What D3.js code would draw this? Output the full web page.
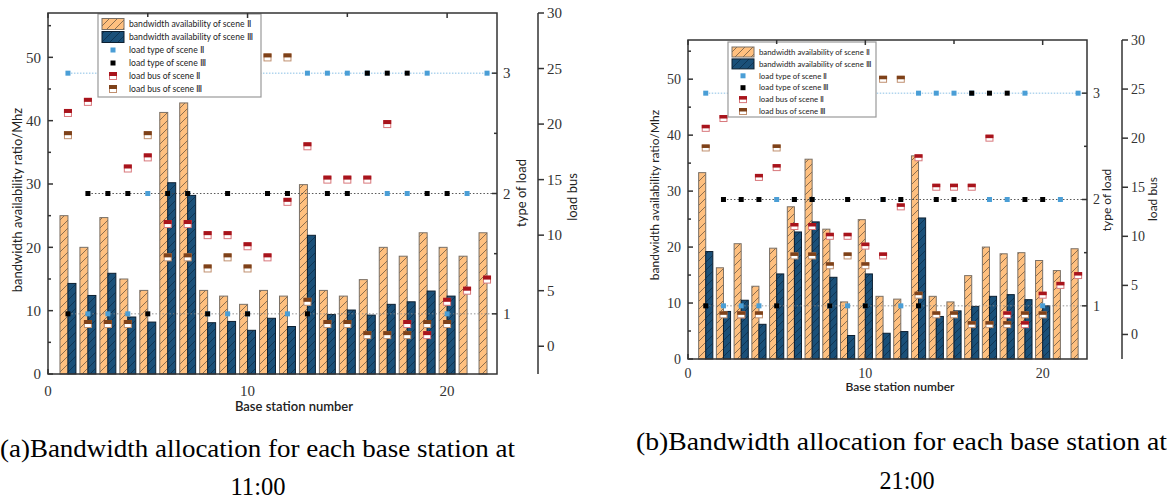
<!DOCTYPE html>
<html><head><meta charset="utf-8">
<script src="https://cdn.jsdelivr.net/npm/d3@7"></script>
<style>body{margin:0;background:#fff} svg{display:block}
.serif{font-family:"Liberation Serif","Times New Roman",Times,"DejaVu Serif Condensed","DejaVu Serif",serif;font-stretch:condensed}
.sans{font-family:Lato,"Open Sans","Liberation Sans",sans-serif}
</style>
</head><body>
<svg id="c" width="1167" height="499"></svg>
<script>
// ---------------- data ----------------
const stations = [1,2,3,4,5,6,7,8,9,10,11,12,13,14,15,16,17,18,19,20,21,22];
const bwScene2At11 = [25,20,24.7,15,13.2,41.3,42.8,13.2,12.3,11,13.2,12.3,29.9,13.2,12.3,14.9,20,18.6,22.3,20,18.6,22.3];
const bwScene3At11 = [14.3,12.4,15.9,9,8.2,30.2,28.2,8.1,8.3,6.9,8.8,7.5,21.9,9.4,10.1,9.3,11,11.4,13.1,12.3,null,null];
const bwScene2At21 = [33.3,16.3,20.6,13,19.8,27.2,35.7,23.2,10.2,24.9,11.2,10.7,36.3,11.2,10.2,14.9,20,18.8,19,17.6,15.8,19.7];
const bwScene3At21 = [19.2,8.5,10.5,6.2,15.2,22.7,24.5,14.6,4.2,15.2,4.6,4.9,25.2,7.6,8.6,9.4,11.2,11.5,10.6,9.5,null,null];
const loadTypeScene2 = [3,1,1,1,2,2,2,1,1,1,2,1,3,3,3,3,2,2,3,1,2,3];
const loadTypeScene3 = [1,2,2,2,1,2,2,1,2,1,2,2,1,2,2,3,3,3,2,2,null,null];
const loadBusScene2 = [21,22,2,16,17,11,11,10,10,9,8,13,18,15,15,15,20,2,1,4,5,6];
const loadBusScene3 = [19,2,2,2,19,8,8,7,8,7,26,26,4,2,2,1,1,1,2,2,null,null];
const leftTicks = [0,10,20,30,40,50];
const leftMinor = [5,15,25,35,45,55];
const xTicks = [0,10,20];
const xMinor = [5,15];
const typeTicks = [1,2,3];
const typeMinor = [1.5,2.5];
const busTicks = [0,5,10,15,20,25,30];
const legendLabels = ["bandwidth availability of scene \u2161","bandwidth availability of scene \u2162",
  "load type of scene \u2161","load type of scene \u2162","load bus of scene \u2161","load bus of scene \u2162"];
const captions = [["(a)Bandwidth allocation for each base station at","11:00"],
                  ["(b)Bandwidth allocation for each base station at","21:00"]];

// ---------------- styles ----------------
const C = {orange:"#FFC07F", orangeEdge:"#7a7066", blue:"#1A5079", blueEdge:"#0c1f30",
  typeBlue:"#4A9ED6", typeBlack:"#000", red:"#A8141C", redEdge:"#D8787C", brown:"#7E4119", brownEdge:"#C09070", axis:"#333"};
const svg = d3.select("#c");
const defs = svg.append("defs");
function hatch(id, bg, line){
  const p = defs.append("pattern").attr("id",id).attr("patternUnits","userSpaceOnUse")
    .attr("width",8).attr("height",8);
  p.append("rect").attr("width",8).attr("height",8).attr("fill",bg);
  p.append("path").attr("d","M-2,2 L2,-2 M0,8 L8,0 M6,10 L10,6").attr("stroke",line).attr("stroke-width",0.7);
}
hatch("hO", C.orange, "#5a4a3a");
hatch("hB", C.blue, "#0a2a44");

const panels = [
  {l:48, r:497, t:13, b:374, busX:538, bw2:bwScene2At11, bw3:bwScene3At11, tick:15, tickDy:22,
   xTitle:[294,411], yTitle:[17,200], typeTitle:[521,193], busTitle:[572,197], titleFs:13,
   leg:{x:98,y:14,w:163,h:83,row:13,fs:8.6,sw:11}, busM:[8,8], cap:[[0,515,457],[258,495,55]]},
  {l:688, r:1087, t:40, b:359, busX:1122, bw2:bwScene2At21, bw3:bwScene3At21, tick:14, tickDy:19,
   xTitle:[900,391], yTitle:[655,195], typeTitle:[1107,200], busTitle:[1153,199], titleFs:12,
   leg:{x:728,y:42,w:148,h:75,row:11.9,fs:7.8,sw:10}, busM:[8,7], cap:[[636,531,450],[907,489,55]]}
];

panels.forEach((P, pi) => {
  const g = svg.append("g");
  const x = d3.scaleLinear().domain([0,22.5]).range([P.l,P.r]);
  const y = d3.scaleLinear().domain([0,57]).range([P.b,P.t]);
  const yT = d3.scaleLinear().domain([0.5,3.5]).range([P.b,P.t]);
  const yB = d3.scaleLinear().domain([-2.5,30]).range([P.b,P.t]);
  const bw = 0.4;

  const d2 = stations.map((s,i)=>({s, v:P.bw2[i]})).filter(d=>d.v!=null);
  const d3s = stations.map((s,i)=>({s, v:P.bw3[i]})).filter(d=>d.v!=null);
  g.selectAll(".bo").data(d2).join("rect")
    .attr("x",d=>x(d.s-bw)).attr("width",d=>x(d.s)-x(d.s-bw))
    .attr("y",d=>y(d.v)).attr("height",d=>y(0)-y(d.v))
    .attr("fill","url(#hO)").attr("stroke",C.orangeEdge).attr("stroke-width",1);
  g.selectAll(".bb").data(d3s).join("rect")
    .attr("x",d=>x(d.s)).attr("width",d=>x(d.s+bw)-x(d.s))
    .attr("y",d=>y(d.v)).attr("height",d=>y(0)-y(d.v))
    .attr("fill","url(#hB)").attr("stroke",C.blueEdge).attr("stroke-width",1);

  [[3,"#7DB9E2","1.5,1.5"],[2,"#444","1.5,2"],[1,"#888","1.5,2"]].forEach(([lv,col,da])=>{
    g.append("line").attr("x1",x(lv===2?2:1)).attr("x2",P.r).attr("y1",yT(lv)).attr("y2",yT(lv))
      .attr("stroke",col).attr("stroke-width",0.9).attr("stroke-dasharray",da);
  });

  const t2 = stations.map((s,i)=>({s,v:loadTypeScene2[i]})).filter(d=>d.v!=null);
  const t3 = stations.map((s,i)=>({s,v:loadTypeScene3[i]})).filter(d=>d.v!=null);
  const ts = 5;
  g.selectAll(".t2").data(t2).join("rect").attr("x",d=>x(d.s)-ts/2).attr("y",d=>yT(d.v)-ts/2)
    .attr("width",ts).attr("height",ts).attr("fill",C.typeBlue);
  g.selectAll(".t3").data(t3).join("rect").attr("x",d=>x(d.s)-ts/2).attr("y",d=>yT(d.v)-ts/2)
    .attr("width",ts).attr("height",ts).attr("fill",C.typeBlack);

  function busMarker(sel, fill, edge){
    const [w,h] = P.busM;
    sel.append("rect").attr("x",-w/2+0.5).attr("y",-h/2+0.5).attr("width",w-1).attr("height",h-1)
      .attr("fill","#fff").attr("stroke",edge).attr("stroke-width",1);
    sel.append("rect").attr("x",-w/2).attr("y",-h/2).attr("width",w).attr("height",h/2)
      .attr("fill",fill);
  }
  const b2 = stations.map((s,i)=>({s,v:loadBusScene2[i]})).filter(d=>d.v!=null);
  const b3 = stations.map((s,i)=>({s,v:loadBusScene3[i]})).filter(d=>d.v!=null);
  g.selectAll(".b2").data(b2).join("g").attr("transform",d=>`translate(${x(d.s)},${yB(d.v)})`)
    .call(busMarker, C.red, C.redEdge);
  g.selectAll(".b3").data(b3).join("g").attr("transform",d=>`translate(${x(d.s)},${yB(d.v)})`)
    .call(busMarker, C.brown, C.brownEdge);

  const L = P.leg;
  const lg = g.append("g");
  lg.append("rect").attr("x",L.x).attr("y",L.y).attr("width",L.w).attr("height",L.h)
    .attr("fill","#fff").attr("stroke","#999").attr("stroke-width",1.2);
  legendLabels.forEach((lab,i)=>{
    const cy = L.y + 10 + i*L.row;
    const sx = L.x + 4, sw = 22, mx = sx + 11;
    if (i===0 || i===1){
      lg.append("rect").attr("x",sx).attr("y",cy-L.sw/2).attr("width",sw).attr("height",L.sw)
        .attr("fill",i===0?"url(#hO)":"url(#hB)").attr("stroke",i===0?C.orangeEdge:C.blueEdge);
    } else if (i===2 || i===3){
      lg.append("rect").attr("x",mx-2.5).attr("y",cy-2.5).attr("width",5).attr("height",5)
        .attr("fill",i===2?C.typeBlue:C.typeBlack);
    } else {
      const mg = lg.append("g").attr("transform",`translate(${mx},${cy})`);
      busMarker(mg, i===4?C.red:C.brown, i===4?C.redEdge:C.brownEdge);
    }
    lg.append("text").attr("class","sans").attr("x",sx+sw+5).attr("y",cy).attr("dy","0.35em")
      .attr("font-size",L.fs).attr("fill","#222").text(lab);
  });

  const ax = g.append("g").attr("stroke",C.axis).attr("stroke-width",1.5).attr("fill","none");
  ax.append("rect").attr("x",P.l).attr("y",P.t).attr("width",P.r-P.l).attr("height",P.b-P.t);
  leftTicks.forEach(v=>ax.append("line").attr("x1",P.l).attr("x2",P.l+5).attr("y1",y(v)).attr("y2",y(v)));
  leftMinor.forEach(v=>ax.append("line").attr("x1",P.l).attr("x2",P.l+3).attr("y1",y(v)).attr("y2",y(v)));
  xTicks.concat(xMinor).forEach(v=>{
    const len = xTicks.includes(v)?5:4;
    ax.append("line").attr("x1",x(v)).attr("x2",x(v)).attr("y1",P.t).attr("y2",P.t+len);
    ax.append("line").attr("x1",x(v)).attr("x2",x(v)).attr("y1",P.b).attr("y2",P.b-len);
  });
  typeTicks.forEach(v=>ax.append("line").attr("x1",P.r).attr("x2",P.r-5).attr("y1",yT(v)).attr("y2",yT(v)));
  typeMinor.forEach(v=>ax.append("line").attr("x1",P.r).attr("x2",P.r-3).attr("y1",yT(v)).attr("y2",yT(v)));
  ax.append("line").attr("x1",P.busX).attr("x2",P.busX).attr("y1",P.t).attr("y2",P.b);
  busTicks.forEach(v=>ax.append("line").attr("x1",P.busX).attr("x2",P.busX+6).attr("y1",yB(v)).attr("y2",yB(v)));

  const tl = g.append("g").attr("class","serif").attr("font-size",P.tick).attr("fill","#333");
  leftTicks.forEach(v=>tl.append("text").attr("x",P.l-7).attr("y",y(v)).attr("dy","0.35em").attr("text-anchor","end").text(v));
  xTicks.forEach(v=>tl.append("text").attr("x",x(v)).attr("y",P.b+P.tickDy).attr("text-anchor","middle").text(v));
  typeTicks.forEach(v=>tl.append("text").attr("x",P.r+6).attr("y",yT(v)).attr("dy","0.35em").text(v));
  busTicks.forEach(v=>tl.append("text").attr("x",P.busX+9).attr("y",yB(v)).attr("dy","0.35em").text(v));

  g.append("text").attr("class","sans").attr("x",P.xTitle[0]).attr("y",P.xTitle[1]).attr("text-anchor","middle")
    .attr("font-size",P.titleFs).attr("font-weight",600).attr("fill","#222").text("Base station number");
  [[P.yTitle,"bandwidth availability ratio/Mhz"],[P.typeTitle,"type of load"],[P.busTitle,"load bus"]].forEach(([pos,txt])=>{
    g.append("text").attr("class","sans").attr("transform",`translate(${pos[0]},${pos[1]}) rotate(-90)`).attr("text-anchor","middle")
      .attr("dy","0.35em").attr("font-size",P.titleFs).attr("fill","#222").text(txt);
  });

  const cap = captions[pi];
  svg.append("text").attr("class","serif").attr("x",P.cap[0][0]).attr("y",P.cap[0][2]).attr("textLength",P.cap[0][1])
    .attr("lengthAdjust","spacingAndGlyphs").attr("font-size",25).attr("fill","#000").text(cap[0]);
  svg.append("text").attr("class","serif").attr("x",P.cap[1][0]-P.cap[1][2]/2).attr("y",P.cap[1][1])
    .attr("textLength",P.cap[1][2]).attr("lengthAdjust","spacingAndGlyphs")
    .attr("font-size",25).attr("fill","#000").text(cap[1]);
});
</script>
</body></html>
